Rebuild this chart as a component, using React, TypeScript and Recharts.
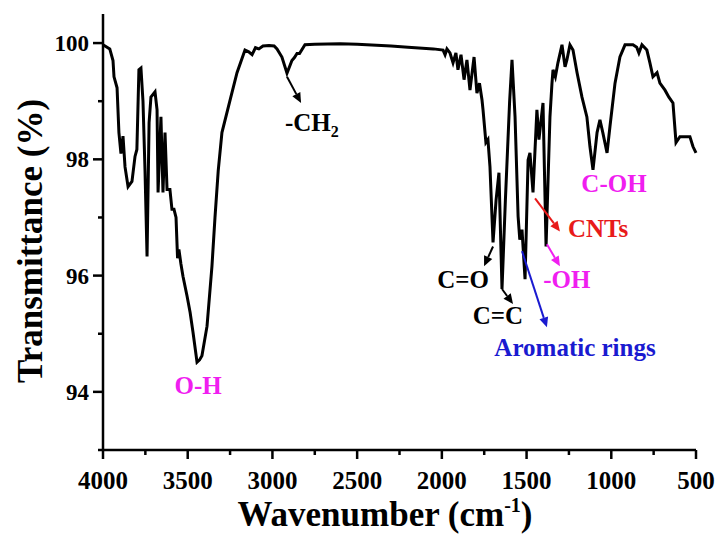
import React from "react";
import {
  LineChart,
  Line,
  XAxis,
  YAxis,
  ReferenceLine,
  ReferenceDot,
  Customized,
} from "recharts";

// FTIR spectrum, wavenumber (cm-1) vs transmittance (%)
const wavenumbers = [
  4000, 3960, 3941, 3935, 3917, 3906, 3894, 3882, 3870, 3852, 3829, 3811, 3800,
  3788, 3776, 3764, 3752, 3740, 3728, 3717, 3693, 3681, 3675, 3658, 3646, 3634,
  3622, 3605, 3593, 3581, 3569, 3560, 3552, 3540, 3528, 3504, 3486, 3469, 3445,
  3430, 3416, 3386, 3357, 3339, 3320, 3298, 3250, 3209, 3162, 3140, 3120, 3100,
  3080, 3056, 3020, 2990, 2973, 2944, 2914, 2885, 2870, 2855, 2840, 2808, 2750,
  2600, 2500, 2300, 2200, 2050, 1993, 1981, 1970, 1952, 1934, 1917, 1905, 1887,
  1869, 1852, 1834, 1810, 1793, 1778, 1763, 1757, 1740, 1728, 1716, 1698, 1680,
  1663, 1645, 1625, 1600, 1586, 1568, 1550, 1540, 1527, 1509, 1491, 1480, 1462,
  1439, 1427, 1403, 1385, 1362, 1350, 1344, 1330, 1315, 1291, 1273, 1262, 1244,
  1226, 1202, 1173, 1144, 1126, 1108, 1084, 1067, 1050, 1025, 1008, 978, 949,
  919, 872, 850, 837, 819, 790, 772, 754, 730, 713, 683, 660, 636, 618, 595, 536,
  518, 500,
];

const transmittance = [
  99.97, 99.9, 99.7, 99.42, 99.23, 98.46, 98.1, 98.4, 97.87, 97.53, 97.62, 98.05,
  98.17, 99.54, 99.57, 99.0, 97.8, 96.33, 98.63, 99.07, 99.16, 98.85, 97.43,
  98.73, 97.43, 98.46, 97.48, 97.48, 97.14, 97.14, 97.0, 96.3, 96.45, 96.2,
  95.99, 95.65, 95.37, 95.03, 94.51, 94.55, 94.62, 95.13, 96.16, 97.0, 97.8,
  98.46, 99.02, 99.49, 99.88, 99.85, 99.8, 99.92, 99.9, 99.95, 99.96, 99.95,
  99.9, 99.76, 99.48, 99.7, 99.75, 99.82, 99.82, 99.97, 99.98, 99.99, 99.98,
  99.95, 99.93, 99.9, 99.88, 99.8, 99.9, 99.83, 99.66, 99.83, 99.54, 99.8, 99.37,
  99.71, 99.19, 99.76, 99.14, 99.31, 99.02, 98.85, 98.29, 98.34, 97.87, 96.57,
  97.3, 97.77, 95.77, 97.3, 99.0, 99.71, 98.73, 97.02, 96.62, 96.79, 95.94,
  97.99, 98.11, 97.43, 98.85, 98.34, 98.97, 96.5, 98.73, 99.31, 99.54, 99.42,
  99.66, 99.97, 99.59, 99.71, 99.97, 99.88, 99.49, 99.07, 98.73, 98.22, 97.82,
  98.46, 98.68, 98.46, 98.11, 98.56, 99.31, 99.76, 99.97, 99.97, 99.93, 99.83,
  99.97, 99.88, 99.66, 99.42, 99.49, 99.31, 99.19, 99.07, 98.97, 98.29, 98.39,
  98.39, 98.22, 98.11,
];

const xTicks = [
  4000, 3750, 3500, 3250, 3000, 2750, 2500, 2250, 2000, 1750, 1500, 1250, 1000,
  750, 500,
];
const yTicks = [93, 94, 95, 96, 97, 98, 99, 100];

// peak labels: text, anchor (wavenumber, transmittance), colour
const labels = [
  { text: "O-H", wn: 3439, t: 93.97, color: "#f01ef0" },
  { text: "C=O", wn: 1875, t: 95.78, color: "#000" },
  { text: "C=C", wn: 1669, t: 95.17, color: "#000" },
  { text: "Aromatic rings", wn: 1214, t: 94.62, color: "#1a1ad0" },
  { text: "-OH", wn: 1262, t: 95.78, color: "#f01ef0" },
  { text: "CNTs", wn: 1078, t: 96.66, color: "#e81a1a" },
  { text: "C-OH", wn: 984, t: 97.43, color: "#f01ef0" },
];

// arrows: from (wn, t) to (wn, t)
const arrows = [
  { from: [2914, 99.42], to: [2831, 98.97], color: "#000" },
  { from: [1698, 96.5], to: [1751, 96.16], color: "#000" },
  { from: [1645, 95.77], to: [1580, 95.51], color: "#000" },
  { from: [1527, 96.42], to: [1380, 95.11], color: "#1a1ad0" },
  { from: [1380, 96.54], to: [1303, 96.16], color: "#f01ef0" },
  { from: [1450, 97.33], to: [1303, 96.76], color: "#e81a1a" },
];

const data = wavenumbers.map((wn, i) => ({ wn, t: transmittance[i] }));

const FONT = "Liberation Serif, DejaVu Serif, Times New Roman, serif";

const XTick = (props: any) => {
  const { x, y, payload } = props;
  const major = payload.value % 500 === 0;
  return (
    <g>
      <line x1={x} y1={y} x2={x} y2={y + (major ? 9 : 5)} stroke="#000" strokeWidth={2.5} />
      {major && (
        <text x={x} y={y + 39} textAnchor="middle" style={{ fontFamily: FONT }} fontWeight="bold" fontSize={25} fill="#000">
          {payload.value}
        </text>
      )}
    </g>
  );
};

const YTick = (props: any) => {
  const { x, y, payload } = props;
  const major = payload.value % 2 === 0;
  return (
    <g>
      <line x1={x} y1={y} x2={x - (major ? 10 : 5)} y2={y} stroke="#000" strokeWidth={2.5} />
      {major && (
        <text x={x - 14} y={y + 8} textAnchor="end" style={{ fontFamily: FONT }} fontWeight="bold" fontSize={23} fill="#000">
          {payload.value}
        </text>
      )}
    </g>
  );
};

const arrowShape = (color: string) => (props: any) => {
  const { x1, y1, x2, y2 } = props;
  const a = Math.atan2(y2 - y1, x2 - x1);
  const L = 10;
  const W = 4.5;
  const bx = x2 - L * Math.cos(a);
  const by = y2 - L * Math.sin(a);
  const pts = `${x2},${y2} ${bx + W * Math.sin(a)},${by - W * Math.cos(a)} ${bx - W * Math.sin(a)},${by + W * Math.cos(a)}`;
  return (
    <g>
      <line x1={x1} y1={y1} x2={bx} y2={by} stroke={color} strokeWidth={2} />
      <polygon points={pts} fill={color} />
    </g>
  );
};

const Titles = () => (
  <g style={{ fontFamily: FONT }} fontWeight="bold" fill="#000">
    <text x={385} y={526} textAnchor="middle" fontSize={35}>
      Wavenumber (cm
      <tspan fontSize={20} dy={-14}>-1</tspan>
      <tspan dy={14}>)</tspan>
    </text>
    <text x={0} y={0} transform="translate(42,241) rotate(-90)" textAnchor="middle" fontSize={35}>
      Transmittance (%)
    </text>
  </g>
);

export default function App() {
  return (
    <div style={{ position: "absolute", left: 0, top: 0, width: 719, height: 535, background: "#fff", fontFamily: FONT }}>
      <LineChart width={719} height={535} data={data} margin={{ top: 14, right: 23, left: 33, bottom: 25 }}>
        <XAxis
          dataKey="wn"
          type="number"
          domain={[500, 4000]}
          reversed
          ticks={xTicks}
          interval={0}
          tickSize={0}
          tickMargin={0}
          tick={(p: any) => <XTick {...p} />}
          axisLine={{ stroke: "#000", strokeWidth: 2.5 }}
          height={60}
        />
        <XAxis
          xAxisId="top"
          orientation="top"
          type="number"
          domain={[500, 4000]}
          reversed
          tick={false}
          tickLine={false}
          height={0}
          axisLine={{ stroke: "#000", strokeWidth: 2.5 }}
        />
        <YAxis
          type="number"
          domain={[93, 100.5]}
          ticks={yTicks}
          interval={0}
          tickSize={0}
          tickMargin={0}
          tick={(p: any) => <YTick {...p} />}
          axisLine={{ stroke: "#000", strokeWidth: 2.5 }}
          width={70}
        />
        <YAxis
          yAxisId="right"
          orientation="right"
          type="number"
          domain={[93, 100.5]}
          tick={false}
          tickLine={false}
          width={0}
          axisLine={{ stroke: "#000", strokeWidth: 2.5 }}
        />
        <Line
          dataKey="t"
          stroke="#000"
          strokeWidth={3}
          dot={false}
          type="linear"
          isAnimationActive={false}
        />
        {arrows.map((a, i) => (
          <ReferenceLine
            key={`arrow-${i}`}
            segment={[
              { x: a.from[0], y: a.from[1] },
              { x: a.to[0], y: a.to[1] },
            ]}
            shape={arrowShape(a.color)}
          />
        ))}
        {labels.map((l) => (
          <ReferenceDot
            key={l.text}
            x={l.wn}
            y={l.t}
            r={0}
            shape={(p: any) => (
              <text x={p.cx} y={p.cy} textAnchor="middle" style={{ fontFamily: FONT }} fontWeight="bold" fontSize={25} fill={l.color}>
                {l.text}
              </text>
            )}
          />
        ))}
        <ReferenceDot
          x={2926}
          y={98.49}
          r={0}
          shape={(p: any) => (
            <text x={p.cx} y={p.cy} textAnchor="start" style={{ fontFamily: FONT }} fontWeight="bold" fontSize={25} fill="#000">
              -CH<tspan fontSize={16} dy={6}>2</tspan>
            </text>
          )}
        />
        <Customized component={Titles} />
      </LineChart>
    </div>
  );
}
